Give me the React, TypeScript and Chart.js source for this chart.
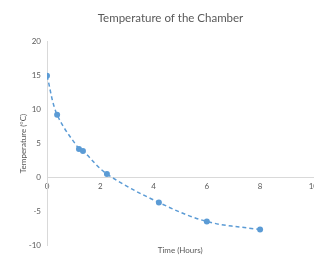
import React, { useEffect, useRef } from "react";
import { Chart, registerables } from "chart.js";

Chart.register(...registerables);

const chartTitle = "Temperature of the Chamber";
const xAxisTitle = "Time (Hours)";
const yAxisTitle = "Temperature (°C)";
const timeHours = [0, 0.38, 1.2, 1.35, 2.25, 4.2, 6, 8];
const temperature = [15, 9.25, 4.2, 3.9, 0.5, -3.7, -6.5, -7.7];

export default function App() {
  const ref = useRef<HTMLCanvasElement | null>(null);
  useEffect(() => {
    if (!ref.current) return;
    const grey = "#595959";
    const font = "Lato, 'Open Sans', sans-serif";
    const chart = new Chart(ref.current, {
      type: "scatter",
      data: {
        datasets: [
          {
            data: timeHours.map((t, i) => ({ x: t, y: temperature[i] })),
            showLine: true,
            borderColor: "#5b9bd5",
            backgroundColor: "#5b9bd5",
            borderWidth: 1.5,
            borderDash: [4, 3],
            tension: 0.35,
            pointRadius: 3,
            pointBorderWidth: 0,
          },
        ],
      },
      options: {
        animation: false,
        responsive: false,
        layout: { padding: { left: 19, right: 0, top: 0, bottom: 1 } },
        plugins: {
          legend: { display: false },
          tooltip: { enabled: false },
          title: {
            display: true,
            text: chartTitle,
            color: grey,
            font: { family: font, size: 11.5, weight: "normal" },
            padding: { top: 11, bottom: 17 },
          },
        },
        scales: {
          x: {
            type: "linear",
            min: 0,
            max: 10,
            position: { y: 0 },
            grid: { display: false, drawTicks: false },
            border: { display: true, color: "#d9d9d9" },
            ticks: { stepSize: 2, color: grey, font: { family: font, size: 8 }, padding: 4 },
          },
          xt: {
            type: "linear",
            min: 0,
            max: 10,
            position: "bottom",
            grid: { display: false, drawTicks: false },
            border: { display: false },
            ticks: { display: false },
            title: {
              display: true,
              text: xAxisTitle,
              color: grey,
              font: { family: font, size: 8 },
              padding: 0,
            },
          },
          y: {
            type: "linear",
            min: -10,
            max: 20,
            position: "left",
            afterFit: (scale: any) => {
              scale.width = 28;
            },
            grid: { display: false, drawTicks: false },
            border: { display: true, color: "#d9d9d9" },
            ticks: { stepSize: 5, color: grey, font: { family: font, size: 8 }, padding: 6 },
            title: {
              display: true,
              text: yAxisTitle,
              color: grey,
              font: { family: font, size: 8 },
              padding: 0,
            },
          },
        },
      },
    });
    return () => chart.destroy();
  }, []);
  return (
    <div style={{ position: "fixed", left: 0, top: 0, width: 314, height: 256, overflow: "hidden", background: "#fff" }}>
      <canvas ref={ref} width={322} height={256} style={{ width: 322, height: 256 }} />
    </div>
  );
}
